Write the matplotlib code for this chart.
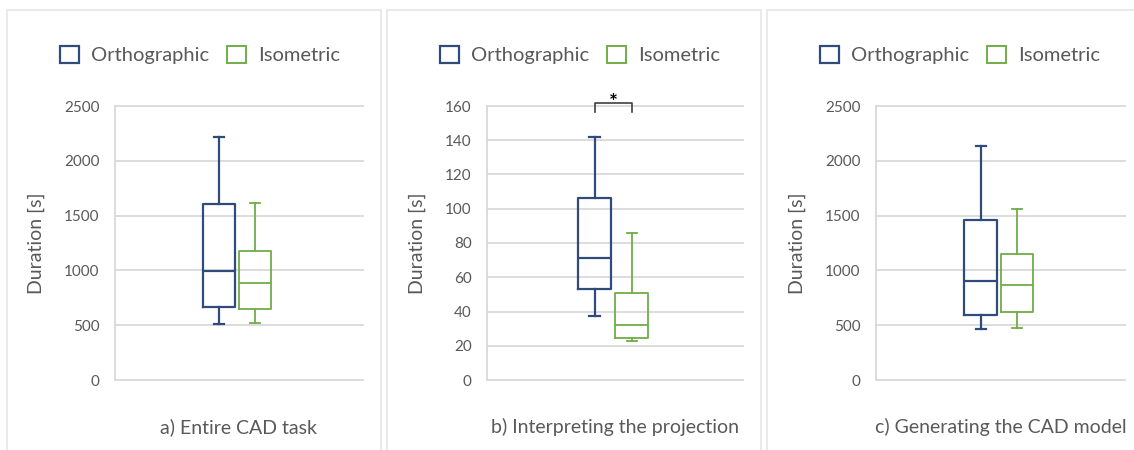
import matplotlib
matplotlib.use("Agg")
import matplotlib.pyplot as plt
from matplotlib.patches import Patch, Rectangle

plt.rcParams['font.family'] = ['Lato', 'DejaVu Sans']

# box statistics read per group: whisker low, Q1, median, Q3, whisker high
titles = ["a) Entire CAD task", "b) Interpreting the projection", "c) Generating the CAD model"]
groups = ["Orthographic", "Isometric"]

ortho_a = [511, 666, 998, 1606, 2220]
iso_a = [523, 645, 888, 1174, 1618]
ortho_b = [37.2, 53.1, 71.4, 106.5, 141.7]
iso_b = [23.0, 24.7, 32.1, 51.0, 86.0]
ortho_c = [465, 593, 906, 1460, 2138]
iso_c = [477, 624, 864, 1150, 1560]

y_max = [2500, 160, 2500]
y_step = [500, 20, 500]

NAVY = "#2F4B7C"
GREEN = "#70AD47"
GRID = "#D9D9D9"
TEXT = "#595959"
W, H = 1134, 450

fig = plt.figure(figsize=(W / 100, H / 100), dpi=100)


def px(x0, y0, w, h):
    # pixel box (top-left origin) -> figure fraction
    return [x0 / W, 1 - (y0 + h) / H, w / W, h / H]


panel_left = [7, 387, 767]
axes_px = [(115, 248), (487, 256), (876, 249)]
ylabel_x = [36, 417, 797]
legend_x = [200, 580, 960]

# light frames around each panel
for x0 in panel_left:
    fig.patches.append(Rectangle((x0 / W, -0.1), 374 / W, 1 - 10 / H + 0.1,
                                 transform=fig.transFigure, fill=False,
                                 edgecolor="#E6E6E6", lw=1.2))

data = [(ortho_a, iso_a), (ortho_b, iso_b), (ortho_c, iso_c)]

for i, (ortho, iso) in enumerate(data):
    left, width = axes_px[i]
    ax = fig.add_axes(px(left, 106, width, 274))
    stats = []
    for vals, name in zip((ortho, iso), groups):
        lo, q1, med, q3, hi = vals
        stats.append(dict(whislo=lo, q1=q1, med=med, q3=q3, whishi=hi, fliers=[], label=name))
    for st, pos, col, lw in zip(stats, [0.42, 0.565], [NAVY, GREEN], [1.6, 1.3]):
        ax.bxp([st], positions=[pos], widths=0.13, showfliers=False,
               boxprops=dict(color=col, lw=lw),
               medianprops=dict(color=col, lw=lw),
               whiskerprops=dict(color=col, lw=lw),
               capprops=dict(color=col, lw=lw),
               capwidths=0.04, manage_ticks=False)
    ax.set_xlim(0, 1)
    ax.set_ylim(0, y_max[i])
    ticks = list(range(0, y_max[i] + 1, y_step[i]))
    ax.set_yticks(ticks)
    for t in ticks:
        ax.axhline(t, color=GRID, lw=1.3, zorder=0, clip_on=False)
    for s in ["top", "right", "bottom"]:
        ax.spines[s].set_visible(False)
    ax.spines["left"].set_color(GRID)
    ax.spines["left"].set_linewidth(1.3)
    ax.set_xticks([])
    ax.tick_params(axis="y", length=0, pad=11, labelsize=11, labelcolor=TEXT)

    fig.text(ylabel_x[i] / W, 1 - 243 / H, "Duration [s]", rotation=90,
             ha="center", va="center", fontsize=14, color=TEXT)
    fig.text((left + width / 2) / W, 1 - 427 / H, titles[i],
             ha="center", va="center", fontsize=14, color=TEXT)

    handles = [Patch(facecolor="white", edgecolor=NAVY, lw=1.6, label=groups[0]),
               Patch(facecolor="white", edgecolor=GREEN, lw=1.4, label=groups[1])]
    ax.legend(handles=handles, loc="center", ncol=2, frameon=False,
              bbox_to_anchor=(legend_x[i] / W, 1 - 55 / H), bbox_transform=fig.transFigure,
              fontsize=14.5, labelcolor=TEXT, handlelength=0.95, handleheight=0.95,
              handletextpad=0.6, columnspacing=0.9)

    if i == 1:
        # significance bracket between the two projection groups
        ax.plot([0.42, 0.42, 0.565, 0.565], [156.5, 162, 162, 156.5],
                color="#404040", lw=1.2, clip_on=False)
        ax.text(0.4925, 161.5, "*", ha="center", va="center", fontsize=15,
                color="black", fontweight="bold")

fig.savefig("out.png", dpi=100)
